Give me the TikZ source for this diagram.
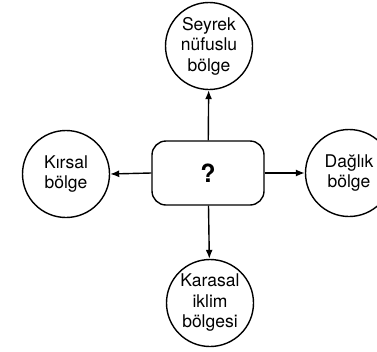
\documentclass[tikz,border=0pt]{standalone}
\usepackage{fontspec}
\setmainfont{TeX Gyre Heros}
\usepackage{tikz}
\usetikzlibrary{arrows.meta}

\begin{document}
\begin{tikzpicture}[x=1pt,y=1pt,
  region/.style={draw,circle,line width=1.4pt,minimum size=87pt,inner sep=0pt,
    align=center,font=\fontsize{17.5}{20.5}\selectfont},
  link/.style={line width=1.4pt,-{Latex[length=9pt,width=7pt]}}]
\useasboundingbox (0,0) rectangle (377,-351);
\node[draw,rounded corners=14pt,line width=1.4pt,minimum width=112pt,minimum height=64pt,
  font=\fontsize{25}{27}\bfseries] (q) at (208,-173) {?};
\node[region] (seyrek) at (209,-46) {Seyrek\\nüfuslu\\bölge};
\node[region] (kirsal) at (66,-174) {Kırsal\\bölge};
\node[region] (dagl) at (349,-173) {Dağlık\\bölge};
\node[region] (karasal) at (210,-303) {Karasal\\iklim\\bölgesi};
\draw[link] (q) -- (seyrek);
\draw[link] (q) -- (karasal);
\draw[link] (q.west) -- (kirsal.east);
\draw[link] (q.east) -- (dagl.west);
\end{tikzpicture}
\end{document}
